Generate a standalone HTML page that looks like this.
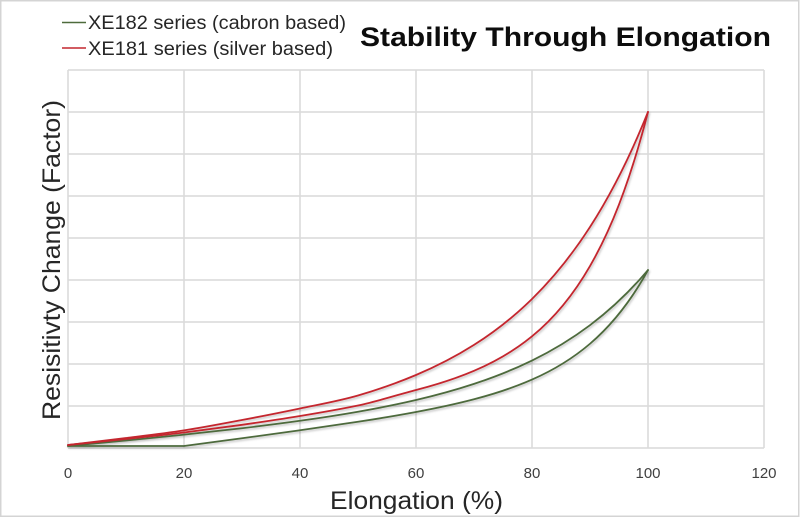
<!DOCTYPE html>
<html>
<head>
<meta charset="utf-8">
<style>
html,body{margin:0;padding:0;background:#fff;}
svg{display:block;}
text{font-family:"Liberation Sans",sans-serif;}
</style>
</head>
<body>
<svg width="800" height="518" viewBox="0 0 800 518" xmlns="http://www.w3.org/2000/svg">
<defs>
<filter id="sh" x="-5%" y="-5%" width="110%" height="110%">
<feDropShadow dx="1" dy="1.5" stdDeviation="1" flood-color="#000" flood-opacity="0.25"/>
</filter>
</defs>
<rect x="0" y="0" width="800" height="518" fill="#fff"/>
<rect x="0.75" y="0.75" width="798" height="515.5" fill="none" stroke="#d4d4d4" stroke-width="1.5"/>

<!-- grid -->
<g stroke="#d9d9d9" stroke-width="1.5" fill="none">
<line x1="68" y1="70" x2="764" y2="70"/>
<line x1="68" y1="112" x2="764" y2="112"/>
<line x1="68" y1="154" x2="764" y2="154"/>
<line x1="68" y1="196" x2="764" y2="196"/>
<line x1="68" y1="238" x2="764" y2="238"/>
<line x1="68" y1="280" x2="764" y2="280"/>
<line x1="68" y1="322" x2="764" y2="322"/>
<line x1="68" y1="364" x2="764" y2="364"/>
<line x1="68" y1="406" x2="764" y2="406"/>
<line x1="68" y1="448" x2="764" y2="448"/>
<line x1="68" y1="70" x2="68" y2="448"/>
<line x1="184" y1="70" x2="184" y2="448"/>
<line x1="300" y1="70" x2="300" y2="448"/>
<line x1="416" y1="70" x2="416" y2="448"/>
<line x1="532" y1="70" x2="532" y2="448"/>
<line x1="648" y1="70" x2="648" y2="448"/>
<line x1="764" y1="70" x2="764" y2="448"/>
</g>

<!-- series -->
<g fill="none" stroke-width="1.8" stroke-linejoin="round" stroke-linecap="round" filter="url(#sh)">
<!-- lower green -->
<path stroke="#4e6b3c" d="M68,446 L184,446 C203.33,443.44 222.67,440.87 242,438.26 C261.33,435.65 280.67,433.0 300,430.28 C319.33,427.56 338.67,424.76 358,421.77 C377.33,418.78 396.67,415.61 416,411.99 C435.33,408.37 454.67,404.34 474,399.26 C493.33,394.18 512.67,388.1 532,379.6 C551.33,371.1 570.67,360.27 590,343.75 C609.33,327.23 628.67,305.28 648,270.02"/>
<!-- upper green -->
<path stroke="#4e6b3c" d="M68,446 C87.33,444.21 106.67,442.39 126,440.51 C145.33,438.63 164.67,436.69 184,434.66 C203.33,432.63 222.67,430.51 242,428.22 C261.33,425.93 280.67,423.49 300,420.79 C319.33,418.09 338.67,415.13 358,411.74 C377.33,408.35 396.67,404.55 416,400.03 C435.33,395.51 454.67,390.28 474,383.9 C493.33,377.52 512.67,369.98 532,360.52 C551.33,351.06 570.67,339.69 590,325.16 C609.33,310.63 628.67,292.96 648,270.07"/>
<!-- lower red -->
<path stroke="#c4262e" d="M68,445 C87.33,443.0 106.67,441.1 126,439.0 C145.33,436.9 164.67,434.9 184,432.5 C203.33,430.1 222.67,427.55 242,424.8 C261.33,422.05 280.67,419.2 300,416.0 C319.33,412.8 338.67,409.5 358,405.5 C377.33,401.5 396.67,395.0 416,390.0 C435.33,385.0 454.67,379.07 474,370.83 C493.33,362.59 512.67,352.15 532,336.34 C551.33,320.53 570.67,299.57 590,266.04 C609.33,232.51 628.67,186.95 648,111.95"/>
<!-- upper red -->
<path stroke="#c4262e" d="M68,445 C87.33,442.78 106.67,440.5 126,438.08 C145.33,435.66 164.67,433.4 184,430.4 C203.33,427.4 222.67,423.65 242,420.0 C261.33,416.35 280.67,412.58 300,408.5 C319.33,404.42 338.67,401.1 358,395.52 C377.33,389.82 396.67,383.18 416,375.01 C435.33,366.84 454.67,357.15 474,344.91 C493.33,332.67 512.67,317.92 532,298.98 C551.33,280.04 570.67,256.96 590,226.97 C609.33,196.98 628.67,160.15 648,111.94"/>
</g>

<!-- x tick labels -->
<g font-size="15" fill="#404040" text-anchor="middle">
<text x="68" y="478">0</text>
<text x="184" y="478">20</text>
<text x="300" y="478">40</text>
<text x="416" y="478">60</text>
<text x="532" y="478">80</text>
<text x="648" y="478">100</text>
<text x="764" y="478">120</text>
</g>

<text x="330" y="509" font-size="25" fill="#262626" textLength="173" lengthAdjust="spacingAndGlyphs">Elongation (%)</text>
<text transform="translate(60,420) rotate(-90)" x="0" y="0" font-size="25" fill="#262626" textLength="320" lengthAdjust="spacingAndGlyphs">Resisitivty Change (Factor)</text>

<!-- legend -->
<line x1="62" y1="22.5" x2="86" y2="22.5" stroke="#4e6b3c" stroke-width="1.5"/>
<line x1="62" y1="48" x2="86" y2="48" stroke="#c4262e" stroke-width="1.5"/>
<text x="88" y="29" font-size="19" fill="#262626" textLength="258" lengthAdjust="spacingAndGlyphs">XE182 series (cabron based)</text>
<text x="88" y="55" font-size="19" fill="#262626" textLength="245" lengthAdjust="spacingAndGlyphs">XE181 series (silver based)</text>

<text x="360" y="46" font-size="27" font-weight="bold" fill="#0d0d0d" textLength="411" lengthAdjust="spacingAndGlyphs">Stability Through Elongation</text>
</svg>
</body>
</html>
